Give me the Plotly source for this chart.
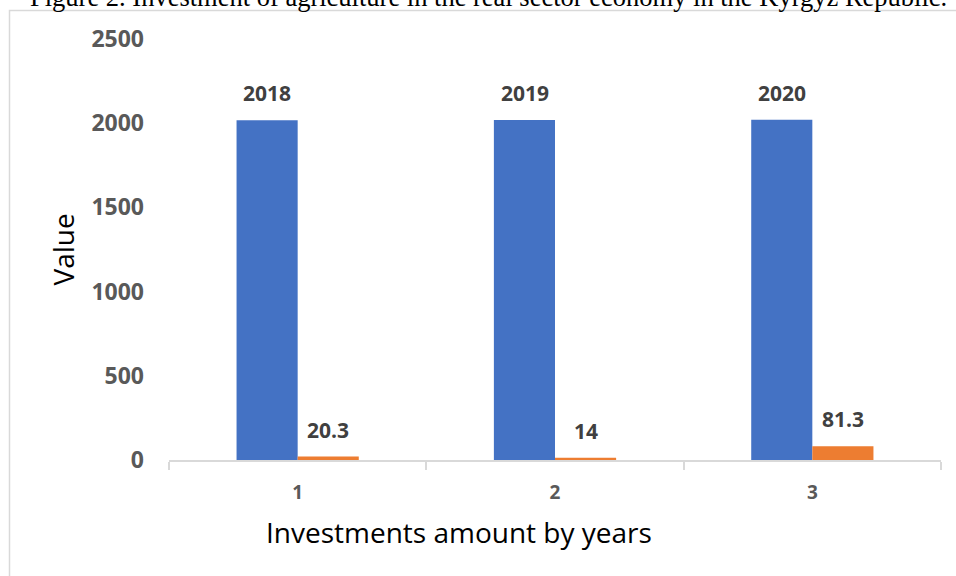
import plotly.graph_objects as go

# ---- data ----
categories = ["1", "2", "3"]
blue_values = [2018, 2019, 2020]
orange_values = [20.3, 14, 81.3]
y_ticks = [0, 500, 1000, 1500, 2000, 2500]
title_text = "Figure 2. Investment of agriculture in the real sector economy in the Kyrgyz Republic."
x_title = "Investments amount by years"
y_title = "Value"

W, H = 956, 576
# plot area in page pixels: left 169, right 941, top 39, bottom 460
ML = 169
MR = W - 941
MT = 39
MB = H - 460
PW, PH = W - ML - MR, H - MT - MB

def px_x(p):
    return (p - ML) / PW

def px_y(p):
    return (H - MB - p) / PH

BLUE = "#4472C4"
ORANGE = "#ED7D31"
FONT = "Open Sans"

fig = go.Figure()
fig.add_trace(go.Bar(x=categories, y=blue_values, marker_color=BLUE,
                     marker_line_width=0, name="blue"))
fig.add_trace(go.Bar(x=categories, y=orange_values, marker_color=ORANGE,
                     marker_line_width=0, name="orange"))

annotations = []
for i, v in enumerate(blue_values):
    annotations.append(dict(x=i, y=v, xref="x", yref="y", xshift=-30.5, yshift=11,
                            yanchor="bottom", showarrow=False, text=f"<b>{v}</b>",
                            font=dict(family=FONT, size=21, color="#404040")))
for i, v in enumerate(orange_values):
    annotations.append(dict(x=i, y=v, xref="x", yref="y", xshift=30.5, yshift=11,
                            yanchor="bottom", showarrow=False, text=f"<b>{v:g}</b>",
                            font=dict(family=FONT, size=21, color="#404040")))

annotations.append(dict(x=px_x(28), y=px_y(-3), xref="paper", yref="paper",
                        xanchor="left", yanchor="middle", showarrow=False,
                        text=title_text,
                        font=dict(family="Liberation Serif", size=26.5, color="#000000")))
annotations.append(dict(x=px_x(459), y=px_y(532), xref="paper", yref="paper",
                        xanchor="center", yanchor="middle", showarrow=False,
                        text=x_title,
                        font=dict(family=FONT, size=28, color="#000000")))
annotations.append(dict(x=px_x(62), y=0.5, xref="paper", yref="paper",
                        xanchor="center", yanchor="middle", showarrow=False,
                        textangle=-90, text=y_title,
                        font=dict(family=FONT, size=28, color="#000000")))

fig.update_layout(
    width=W, height=H, autosize=False,
    margin=dict(l=ML, r=MR, t=MT, b=MB, pad=0, autoexpand=False),
    paper_bgcolor="white", plot_bgcolor="white",
    barmode="group", bargap=0.525, bargroupgap=0,
    showlegend=False,
    annotations=annotations,
    shapes=[dict(type="rect", xref="paper", yref="paper",
                 x0=px_x(9.5), x1=px_x(990), y0=px_y(600), y1=px_y(10.5),
                 line=dict(color="#d9d9d9", width=1.5), fillcolor="rgba(0,0,0,0)",
                 layer="below")],
)
fig.update_xaxes(
    type="category", showline=True, linecolor="#d9d9d9", linewidth=1.5,
    ticks="outside", ticklen=8, tickcolor="#d9d9d9", tickwidth=1.5,
    tickson="boundaries", showgrid=False, zeroline=False, automargin=False,
    range=[-0.5, 2.5],
    tickfont=dict(family=FONT, size=19, color="#595959", weight="bold"),
    ticklabelstandoff=14,
)
fig.update_yaxes(
    range=[0, 2500], tickvals=y_ticks, ticktext=[f"<b>{t}</b>" for t in y_ticks],
    showgrid=False, zeroline=False, showline=False, ticks="", automargin=False,
    tickfont=dict(family=FONT, size=23, color="#595959"),
    ticklabelstandoff=24,
)

fig.write_html("out.html", config={"displayModeBar": False},
               post_script="document.body.style.margin='0px';")
